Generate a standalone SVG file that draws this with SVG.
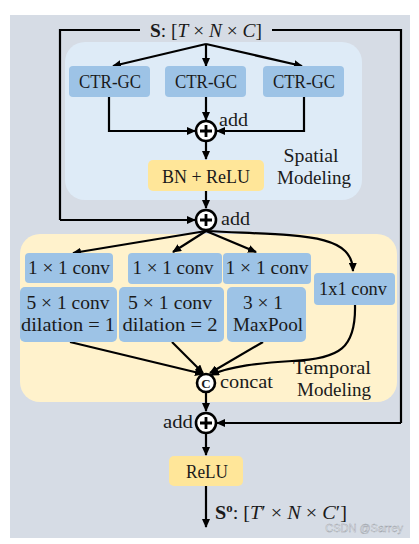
<svg xmlns="http://www.w3.org/2000/svg" width="419" height="544" viewBox="0 0 419 544">
<defs>
<marker id="ah" markerUnits="userSpaceOnUse" markerWidth="9" markerHeight="8" refX="8" refY="4" orient="auto">
<path d="M0,0 L9,4 L0,8 Z" fill="#000"/>
</marker>
<style>
.t{font-family:"Liberation Serif","DejaVu Serif",serif;fill:#1a1a1a;font-size:19px}
.bx{text-anchor:middle}
.blue{fill:#9dc3e6}
.yel{fill:#ffe699}
.ln{fill:none;stroke:#000;stroke-width:2.2}
.ar{fill:none;stroke:#000;stroke-width:2.2;marker-end:url(#ah)}
.op{fill:#fff;stroke:#000;stroke-width:2.6}
</style>
</defs>
<rect x="0" y="0" width="419" height="544" fill="#fff"/>
<rect x="10" y="15" width="400" height="523" fill="#d6dce5"/>
<g id="spatial-panel">
<rect x="65" y="42" width="297" height="158" rx="20" fill="#deebf7"/>
<text class="t" x="311" y="162" text-anchor="middle" textLength="55" lengthAdjust="spacingAndGlyphs">Spatial</text>
<text class="t" x="314" y="184" text-anchor="middle" textLength="74" lengthAdjust="spacingAndGlyphs">Modeling</text>
</g>
<g id="temporal-panel">
<rect x="20" y="234" width="377" height="168" rx="20" fill="#fff2cc"/>
<text class="t" x="332" y="374" text-anchor="middle" textLength="78" lengthAdjust="spacingAndGlyphs">Temporal</text>
<text class="t" x="334" y="396" text-anchor="middle" textLength="74" lengthAdjust="spacingAndGlyphs">Modeling</text>
</g>
<g id="connectors">
<path class="ln" d="M140,30 H60 V220"/>
<path class="ar" d="M60,220 H195"/>
<path class="ln" d="M272,30 H401 V423"/>
<path class="ar" d="M401,423 H217"/>
<path class="ar" d="M206,44 L113,66"/>
<path class="ar" d="M206,44 V66"/>
<path class="ar" d="M206,44 L302,66"/>
<path class="ar" d="M109,97 V131 H195"/>
<path class="ar" d="M304,97 V131 H217"/>
<path class="ar" d="M206,97 V120"/>
<path class="ar" d="M206,142 V159"/>
<path class="ar" d="M206,191 V208"/>
<path class="ar" d="M206,231 L73,253"/>
<path class="ar" d="M206,231 L173,252"/>
<path class="ar" d="M206,231 L256,252"/>
<path class="ar" d="M206,231 C300,236 352,232 353,271"/>
<path class="ar" d="M70,342 L203,374"/>
<path class="ar" d="M172,342 L203,373"/>
<path class="ar" d="M263,342 L210,373"/>
<path class="ar" d="M355,305 C356,348 340,359 292,361 C260,363 230,366 211,375"/>
<path class="ar" d="M206,393 V411"/>
<path class="ar" d="M206,434 V455"/>
<path class="ar" d="M206,486 V527"/>
</g>
<g id="input">
<text class="t" x="206" y="37" text-anchor="middle" textLength="112" lengthAdjust="spacingAndGlyphs"><tspan font-weight="bold">S</tspan>: [<tspan font-style="italic">T</tspan> × <tspan font-style="italic">N</tspan> × <tspan font-style="italic">C</tspan>]</text>
</g>
<g id="ctrgc1"><rect class="blue" x="69" y="66" width="81" height="31" rx="4"/><text class="t bx" x="110" y="88" textLength="62" lengthAdjust="spacingAndGlyphs">CTR-GC</text></g>
<g id="ctrgc2"><rect class="blue" x="165" y="66" width="81" height="31" rx="4"/><text class="t bx" x="206" y="88" textLength="62" lengthAdjust="spacingAndGlyphs">CTR-GC</text></g>
<g id="ctrgc3"><rect class="blue" x="263" y="66" width="81" height="31" rx="4"/><text class="t bx" x="304" y="88" textLength="62" lengthAdjust="spacingAndGlyphs">CTR-GC</text></g>
<g id="add1"><circle class="op" cx="206" cy="131" r="10"/><path d="M200,131 H212 M206,125 V137" stroke="#000" stroke-width="2.8"/><text class="t" x="219" y="126" textLength="29" lengthAdjust="spacingAndGlyphs">add</text></g>
<g id="bnrelu"><rect class="yel" x="148" y="160" width="116" height="31" rx="5"/><text class="t bx" x="206" y="183" textLength="88" lengthAdjust="spacingAndGlyphs">BN + ReLU</text></g>
<g id="add2"><circle class="op" cx="206" cy="220" r="10"/><path d="M200,220 H212 M206,214 V226" stroke="#000" stroke-width="2.8"/><text class="t" x="221" y="225" textLength="29" lengthAdjust="spacingAndGlyphs">add</text></g>
<g id="conv1a"><rect class="blue" x="25" y="253" width="88" height="30" rx="4"/><text class="t bx" x="69" y="274" textLength="82" lengthAdjust="spacingAndGlyphs">1 × 1 conv</text></g>
<g id="conv1b"><rect class="blue" x="128" y="253" width="94" height="31" rx="4"/><text class="t bx" x="173" y="274" textLength="81" lengthAdjust="spacingAndGlyphs">1 × 1 conv</text></g>
<g id="conv1c"><rect class="blue" x="223" y="253" width="88" height="31" rx="4"/><text class="t bx" x="267" y="274" textLength="83" lengthAdjust="spacingAndGlyphs">1 × 1 conv</text></g>
<g id="conv5d1"><rect class="blue" x="20" y="287" width="97" height="55" rx="5"/><text class="t bx" x="68" y="309" textLength="83" lengthAdjust="spacingAndGlyphs">5 × 1 conv</text><text class="t bx" x="68" y="331" textLength="94" lengthAdjust="spacingAndGlyphs">dilation = 1</text></g>
<g id="conv5d2"><rect class="blue" x="119" y="287" width="105" height="55" rx="5"/><text class="t bx" x="170" y="309" textLength="84" lengthAdjust="spacingAndGlyphs">5 × 1 conv</text><text class="t bx" x="170" y="331" textLength="95" lengthAdjust="spacingAndGlyphs">dilation = 2</text></g>
<g id="maxpool"><rect class="blue" x="227" y="287" width="79" height="55" rx="5"/><text class="t bx" x="263" y="309" textLength="40" lengthAdjust="spacingAndGlyphs">3 × 1</text><text class="t bx" x="268" y="331" textLength="70" lengthAdjust="spacingAndGlyphs">MaxPool</text></g>
<g id="conv1x1"><rect class="blue" x="314" y="273" width="81" height="32" rx="4"/><text class="t bx" x="353" y="295" textLength="68" lengthAdjust="spacingAndGlyphs">1x1 conv</text></g>
<g id="concat"><circle class="op" cx="206" cy="383" r="9"/><text class="t" x="206" y="388" font-size="13" font-weight="bold" text-anchor="middle" style="font-size:13px">C</text><text class="t" x="220" y="388" textLength="53" lengthAdjust="spacingAndGlyphs">concat</text></g>
<g id="add3"><circle class="op" cx="206" cy="423" r="10"/><path d="M200,423 H212 M206,417 V429" stroke="#000" stroke-width="2.8"/><text class="t" x="163" y="428" textLength="30" lengthAdjust="spacingAndGlyphs">add</text></g>
<g id="relu"><rect class="yel" x="169" y="456" width="74" height="30" rx="5"/><text class="t bx" x="207" y="478" textLength="42" lengthAdjust="spacingAndGlyphs">ReLU</text></g>
<g id="output">
<text class="t" x="215" y="519" textLength="132" lengthAdjust="spacingAndGlyphs"><tspan font-weight="bold">S</tspan><tspan font-weight="bold" style="font-size:12px" dy="-7">o</tspan><tspan dy="7">: [</tspan><tspan font-style="italic">T</tspan>′ × <tspan font-style="italic">N</tspan> × <tspan font-style="italic">C</tspan>′]</text>
</g>
<text x="403" y="532" font-family="Liberation Sans,Arial,sans-serif" font-size="11" text-anchor="end" fill="#eef0f3" stroke="#9aa0a8" stroke-width="0.4">CSDN @Sarrey</text>
</svg>
